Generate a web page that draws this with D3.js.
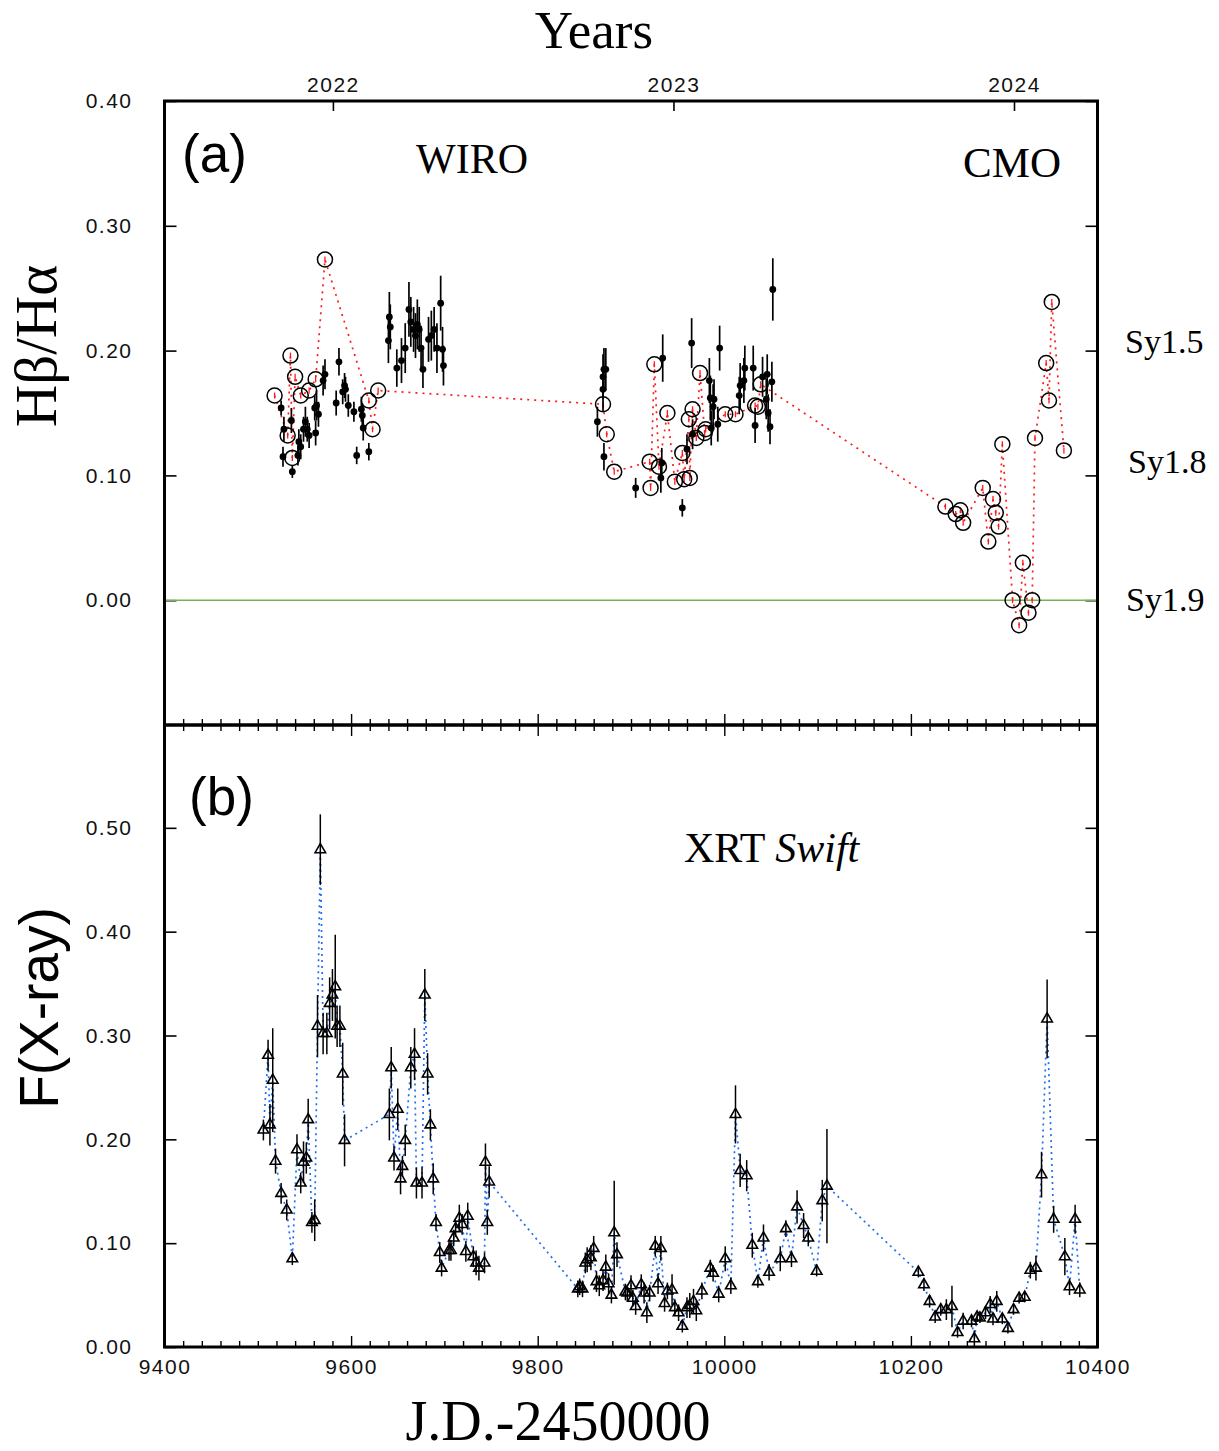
<!DOCTYPE html>
<html>
<head>
<meta charset="utf-8">
<script src="https://cdn.jsdelivr.net/npm/d3@7"></script>
<style>
body { margin: 0; background: #fff; }
.tick text { font-family: "Liberation Sans", Arial, sans-serif; font-size: 21px; letter-spacing: 1.5px; fill: #111; }
.serif { font-family: "Liberation Serif", "Times New Roman", serif; }
.sans { font-family: "Liberation Sans", Arial, sans-serif; }
</style>
</head>
<body>
<script>
// ---- panel (a): WIRO points (filled dots with error bars)
var wiroJD = [9525,9527,9528,9536,9537,9543,9544,9546,9549,9551,9553,9555,9561,9562,9563,9565,9570,9572,9584,9587,9591,9593,9594,9597,9603,9606,9611,9612,9613,9619,
  9640,9641,9642,9649,9654,9658,9662,9664,9667,9669,9671,9673,9675,9677,9683,9686,9689,9692,9696,9698,9699,
  9864,9870,9870,9871,9873,9871,9905,9932,9933,9934,9955,9960,9965,9966,9984,9985,9986,9988,9989,9993,9995,
  10016,10017,10021,10022,10031,10033,10041,10045,10046,10047,10049,10051,10052];
var wiroVal = [0.154,0.115,0.137,0.144,0.103,0.116,0.127,0.123,0.137,0.143,0.137,0.132,0.154,0.134,0.156,0.149,0.176,0.181,0.158,0.191,0.167,0.172,0.169,0.156,0.151,0.116,0.153,0.148,0.138,0.119,
  0.208,0.227,0.219,0.186,0.192,0.202,0.233,0.223,0.217,0.212,0.221,0.217,0.202,0.185,0.209,0.212,0.217,0.202,0.238,0.201,0.188,
  0.143,0.169,0.179,0.185,0.185,0.115,0.090,0.098,0.110,0.194,0.074,0.121,0.206,0.133,0.176,0.162,0.138,0.155,0.161,0.141,0.202,
  0.164,0.172,0.176,0.186,0.186,0.140,0.179,0.161,0.181,0.150,0.139,0.175,0.249];
var wiroErr = [0.006,0.008,0.010,0.010,0.005,0.008,0.010,0.010,0.010,0.012,0.010,0.010,0.010,0.010,0.012,0.010,0.012,0.012,0.010,0.011,0.010,0.010,0.010,0.009,0.008,0.007,0.010,0.010,0.010,0.007,
  0.018,0.020,0.018,0.015,0.018,0.020,0.022,0.020,0.018,0.018,0.020,0.018,0.018,0.015,0.018,0.020,0.018,0.020,0.022,0.018,0.016,
  0.012,0.018,0.018,0.017,0.017,0.011,0.008,0.012,0.012,0.019,0.007,0.012,0.020,0.012,0.018,0.018,0.014,0.018,0.016,0.014,0.018,
  0.015,0.018,0.018,0.018,0.018,0.014,0.016,0.016,0.016,0.015,0.014,0.016,0.025];

// ---- panel (a): open circles joined by the red dotted line
var circJD = [9518,9532,9535,9537,9540,9546,9555,9562,9572,9619,9623,9629,
  9870,9874,9882,9920,9921,9925,9930,9939,9947,9955,9957,9962,9963,9966,9970,9974,9979,9980,10001,10012,10033,10036,10039,
  10237,10248,10253,10256,10277,10283,10288,10291,10294,10298,10309,10316,10320,10326,10330,10333,10345,10348,10351,10364];
var circVal = [0.164,0.132,0.196,0.114,0.179,0.164,0.168,0.177,0.273,0.160,0.137,0.168,
  0.157,0.133,0.103,0.111,0.090,0.189,0.107,0.150,0.095,0.118,0.097,0.145,0.098,0.153,0.130,0.182,0.134,0.137,0.149,0.149,0.156,0.155,0.173,
  0.075,0.069,0.072,0.062,0.090,0.047,0.081,0.070,0.059,0.125,0.000,-0.020,0.030,-0.010,0.000,0.130,0.190,0.160,0.239,0.120];

// ---- panel (b): XRT Swift
var xrtJD = [9506,9511,9513,9516,9519,9525,9531,9537,9542,9546,9549,9552,9554,9558,9561,9564,9567,9570,9574,9577,9580,9583,9585,9588,9591,9593,
  9641,9643,9646,9650,9653,9655,9658,9664,9668,9670,9676,9679,9682,9685,9688,9691,9695,9697,9705,9707,9710,9712,9716,9719,9723,9725,9731,9734,9737,9743,9744,9746,9748,
  9843,9845,9848,9851,9853,9857,9860,9863,9866,9870,9873,9876,9879,9882,9885,9894,9896,9900,9902,9905,9911,9914,9917,9920,9926,9929,9932,9936,9939,9944,9947,9951,9955,9960,9963,9967,9970,9976,9985,9988,9994,
  10001,10007,10012,10017,10024,10030,10036,10042,10048,10060,10066,10072,10078,10085,10090,10099,10105,10110,
  10208,10214,10220,10226,10232,10238,10244,10250,10256,10265,10268,10271,10274,10280,10285,10288,10292,10298,10304,10310,10316,10322,10328,10334,10340,10346,10353,10365,10370,10376,10381];
var xrtVal = [0.209,0.281,0.214,0.257,0.179,0.148,0.132,0.085,0.190,0.158,0.178,0.182,0.219,0.120,0.122,0.309,0.479,0.302,0.302,0.331,0.339,0.347,0.309,0.309,0.263,0.199,
  0.224,0.269,0.182,0.229,0.162,0.174,0.199,0.269,0.282,0.158,0.158,0.339,0.263,0.214,0.162,0.120,0.091,0.076,0.093,0.093,0.105,0.114,0.124,0.118,0.092,0.126,0.087,0.081,0.076,0.081,0.178,0.120,0.159,
  0.056,0.058,0.056,0.081,0.084,0.086,0.095,0.063,0.059,0.064,0.077,0.061,0.050,0.110,0.089,0.053,0.052,0.059,0.047,0.039,0.060,0.052,0.033,0.052,0.097,0.061,0.095,0.042,0.054,0.055,0.038,0.033,0.020,0.038,0.040,0.044,0.035,0.054,0.076,0.071,0.051,
  0.085,0.059,0.224,0.170,0.165,0.098,0.063,0.105,0.072,0.085,0.114,0.085,0.135,0.117,0.105,0.073,0.141,0.155,
  0.072,0.060,0.044,0.029,0.036,0.036,0.039,0.014,0.025,0.025,0.008,0.029,0.028,0.033,0.041,0.027,0.044,0.027,0.018,0.036,0.047,0.048,0.074,0.076,0.166,0.316,0.123,0.087,0.058,0.123,0.055];
var xrtErr = [0.010,0.015,0.020,0.050,0.012,0.010,0.010,0.006,0.015,0.010,0.020,0.015,0.020,0.010,0.020,0.030,0.034,0.020,0.020,0.025,0.025,0.050,0.020,0.020,0.030,0.025,
  0.025,0.020,0.012,0.020,0.015,0.010,0.015,0.020,0.025,0.015,0.015,0.025,0.020,0.015,0.015,0.008,0.010,0.008,0.010,0.010,0.008,0.008,0.013,0.010,0.010,0.013,0.010,0.012,0.012,0.010,0.018,0.012,0.015,
  0.008,0.008,0.008,0.010,0.012,0.012,0.012,0.010,0.010,0.010,0.012,0.010,0.008,0.050,0.012,0.008,0.008,0.010,0.008,0.008,0.010,0.010,0.010,0.008,0.010,0.010,0.012,0.008,0.008,0.015,0.008,0.008,0.006,0.010,0.012,0.012,0.010,0.008,0.008,0.008,0.008,
  0.012,0.008,0.028,0.016,0.015,0.012,0.006,0.013,0.008,0.012,0.008,0.008,0.016,0.012,0.008,0.005,0.020,0.055,
  0.005,0.006,0.006,0.006,0.006,0.010,0.020,0.005,0.008,0.006,0.008,0.005,0.005,0.006,0.008,0.006,0.010,0.005,0.005,0.005,0.005,0.005,0.008,0.012,0.022,0.038,0.013,0.018,0.008,0.014,0.007];

// ---- axis ticks / labels
var xTicks = d3.range(9400, 10401, 20);
var yearJD = [9580.5, 9945.5, 10310.5];
var yearLabels = ["2022", "2023", "2024"];
var yTicksA = [0, 0.1, 0.2, 0.3, 0.4];
var yTicksB = [0, 0.1, 0.2, 0.3, 0.4, 0.5];
var syLabels = ["Sy1.5", "Sy1.8", "Sy1.9"];

var svg = d3.select("body").append("svg")
  .attr("width", 1219)
  .attr("height", 1451);

var x = d3.scaleLinear().domain([9400, 10400]).range([164.5, 1097.5]);
var yA = d3.scaleLinear().domain([-0.1, 0.4]).range([725, 101]);
var yB = d3.scaleLinear().domain([0, 0.6]).range([1347, 724]);

var isMajor = function(d){ return d % 200 === 0; };

var styleX = function(g, dir){
  g.select(".domain").remove();
  g.selectAll(".tick line")
    .attr("y2", function(d){ return dir * (isMajor(d) ? 11 : 6); })
    .attr("stroke", "#000").attr("stroke-width", 1.4);
};
var styleY = function(g){
  g.select(".domain").remove();
  g.selectAll(".tick line").attr("stroke", "#000").attr("stroke-width", 1.6);
};

// x axes (ticks inward)
svg.append("g").attr("transform", "translate(0,725)")
  .call(d3.axisBottom(x).tickValues(xTicks).tickFormat(""))
  .call(styleX, -1);
svg.append("g").attr("transform", "translate(0,725)")
  .call(d3.axisTop(x).tickValues(xTicks).tickFormat(""))
  .call(styleX, 1);
svg.append("g").attr("transform", "translate(0,1347)")
  .call(d3.axisBottom(x).tickValues(xTicks)
    .tickFormat(function(d){ return isMajor(d) ? d : ""; }).tickPadding(6))
  .call(styleX, -1);

// years axis on top
svg.append("g").attr("transform", "translate(0,101)")
  .call(d3.axisTop(x).tickValues(yearJD)
    .tickFormat(function(d, i){ return yearLabels[i]; })
    .tickSize(-10).tickPadding(9))
  .call(styleY);

// y axes
svg.append("g").attr("transform", "translate(164.5,0)")
  .call(d3.axisLeft(yA).tickValues(yTicksA).tickFormat(d3.format(".2f")).tickSize(-12).tickPadding(32))
  .call(styleY);
svg.append("g").attr("transform", "translate(1097.5,0)")
  .call(d3.axisRight(yA).tickValues(yTicksA).tickFormat("").tickSize(-12))
  .call(styleY);
svg.append("g").attr("transform", "translate(164.5,0)")
  .call(d3.axisLeft(yB).tickValues(yTicksB).tickFormat(d3.format(".2f")).tickSize(-12).tickPadding(32))
  .call(styleY);
svg.append("g").attr("transform", "translate(1097.5,0)")
  .call(d3.axisRight(yB).tickValues(yTicksB).tickFormat("").tickSize(-12))
  .call(styleY);

// zero line, panel (a)
svg.append("line")
  .attr("x1", x(9400)).attr("x2", x(10400))
  .attr("y1", yA(0)).attr("y2", yA(0))
  .attr("stroke", "#7aaf52").attr("stroke-width", 1.6);

// ---- panel (a) marks
var circ = circJD.map(function(d, i){ return [d, circVal[i]]; });
var wiro = wiroJD.map(function(d, i){ return [d, wiroVal[i], wiroErr[i]]; });

svg.append("path")
  .datum(circ)
  .attr("d", d3.line().x(function(d){ return x(d[0]); }).y(function(d){ return yA(d[1]); }))
  .attr("fill", "none").attr("stroke", "#ff1a1a").attr("stroke-width", 1.7)
  .attr("stroke-dasharray", "2,5");

svg.selectAll(".cerr").data(circ).enter().append("line")
  .attr("x1", function(d){ return x(d[0]); }).attr("x2", function(d){ return x(d[0]); })
  .attr("y1", function(d){ return yA(d[1]) - 3; }).attr("y2", function(d){ return yA(d[1]) + 3; })
  .attr("stroke", "#ff1a1a").attr("stroke-width", 1.3);

svg.selectAll(".circ").data(circ).enter().append("circle")
  .attr("cx", function(d){ return x(d[0]); })
  .attr("cy", function(d){ return yA(d[1]); })
  .attr("r", 7.5)
  .attr("fill", "none").attr("stroke", "#000").attr("stroke-width", 1.5);

svg.selectAll(".werr").data(wiro).enter().append("line")
  .attr("x1", function(d){ return x(d[0]); }).attr("x2", function(d){ return x(d[0]); })
  .attr("y1", function(d){ return yA(d[1] - d[2]); }).attr("y2", function(d){ return yA(d[1] + d[2]); })
  .attr("stroke", "#000").attr("stroke-width", 1.7);

svg.selectAll(".wiro").data(wiro).enter().append("circle")
  .attr("cx", function(d){ return x(d[0]); })
  .attr("cy", function(d){ return yA(d[1]); })
  .attr("r", 3.4)
  .attr("fill", "#000");

// ---- panel (b) marks
var xrt = xrtJD.map(function(d, i){ return [d, xrtVal[i], xrtErr[i]]; });

svg.append("path")
  .datum(xrt)
  .attr("d", d3.line().x(function(d){ return x(d[0]); }).y(function(d){ return yB(d[1]); }))
  .attr("fill", "none").attr("stroke", "#1f6ff2").attr("stroke-width", 1.7)
  .attr("stroke-dasharray", "2,4");

svg.selectAll(".xerr").data(xrt).enter().append("line")
  .attr("x1", function(d){ return x(d[0]); }).attr("x2", function(d){ return x(d[0]); })
  .attr("y1", function(d){ return yB(d[1] - d[2]); }).attr("y2", function(d){ return yB(d[1] + d[2]); })
  .attr("stroke", "#000").attr("stroke-width", 1.5);

svg.selectAll(".tri").data(xrt).enter().append("path")
  .attr("transform", function(d){ return "translate(" + x(d[0]) + "," + yB(d[1]) + ")"; })
  .attr("d", d3.symbol().type(d3.symbolTriangle).size(48))
  .attr("fill", "none").attr("stroke", "#000").attr("stroke-width", 1.6);

// frames
svg.append("rect").attr("x", 164.5).attr("y", 101).attr("width", 933).attr("height", 624)
  .attr("fill", "none").attr("stroke", "#000").attr("stroke-width", 3);
svg.append("rect").attr("x", 164.5).attr("y", 725).attr("width", 933).attr("height", 622)
  .attr("fill", "none").attr("stroke", "#000").attr("stroke-width", 3);

// ---- text
svg.append("text").attr("class", "serif").attr("x", 594).attr("y", 48)
  .attr("text-anchor", "middle").attr("font-size", 53).text("Years");
svg.append("text").attr("class", "serif").attr("x", 558).attr("y", 1440)
  .attr("text-anchor", "middle").attr("font-size", 56).text("J.D.-2450000");
svg.append("text").attr("class", "serif").attr("font-size", 59)
  .attr("transform", "translate(56,346) rotate(-90)")
  .attr("text-anchor", "middle").text("Hβ/Hα");
svg.append("text").attr("class", "sans").attr("font-size", 55)
  .attr("transform", "translate(58,1008) rotate(-90)")
  .attr("text-anchor", "middle").text("F(X-ray)");

svg.append("text").attr("class", "sans").attr("x", 182).attr("y", 172)
  .attr("font-size", 53).text("(a)");
svg.append("text").attr("class", "sans").attr("x", 189).attr("y", 815)
  .attr("font-size", 53).text("(b)");

svg.append("text").attr("class", "serif").attr("x", 416).attr("y", 173)
  .attr("font-size", 42).text("WIRO");
svg.append("text").attr("class", "serif").attr("x", 963).attr("y", 177)
  .attr("font-size", 43).text("CMO");
var xl = svg.append("text").attr("class", "serif").attr("x", 684).attr("y", 862)
  .attr("font-size", 42);
xl.append("tspan").text("XRT ");
xl.append("tspan").attr("font-style", "italic").text("Swift");

var syX = [1125, 1128, 1126];
var syY = [353, 473, 611];
svg.selectAll(".sy").data(syLabels).enter().append("text")
  .attr("class", "serif").attr("font-size", 34)
  .attr("x", function(d, i){ return syX[i]; })
  .attr("y", function(d, i){ return syY[i]; })
  .text(function(d){ return d; });
</script>
</body>
</html>
